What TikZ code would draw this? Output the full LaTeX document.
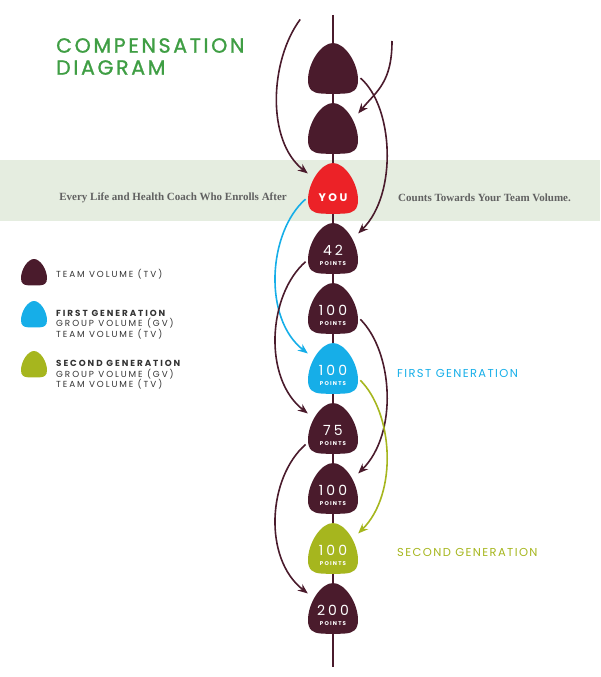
\documentclass[tikz,border=0pt]{standalone}
\usepackage{fontspec}
\setmainfont{Liberation Serif}
\newfontfamily\gothic{Poppins}[LetterSpace=12]
\newfontfamily\gothicwide{Poppins}[LetterSpace=22]
\newfontfamily\gothictitle{Poppins}[LetterSpace=13, FakeBold=1.2]
\usetikzlibrary{positioning,arrows.meta}
\definecolor{plum}{HTML}{4A1B2C}
\definecolor{youred}{HTML}{EC2227}
\definecolor{firstblue}{HTML}{16AEE8}
\definecolor{secondgreen}{HTML}{A6B61E}
\definecolor{titlegreen}{HTML}{3F9E44}
\definecolor{band}{HTML}{E5EDE0}
\definecolor{ink}{HTML}{333333}

\newcommand\ptslabel[1]{#1\\[-3pt]{\gothicwide\fontsize{5.5}{6}\selectfont\bfseries POINTS}}

\tikzset{
  pics/drop/.style={code={
    \fill[#1] (0,25) .. controls (12,25) and (25,5) .. (25,-12)
      .. controls (25,-22) and (20,-25) .. (12,-25.5)
      .. controls (5,-26) and (-5,-26) .. (-12,-25.5)
      .. controls (-20,-25) and (-25,-22) .. (-25,-12)
      .. controls (-25,5) and (-12,25) .. cycle;
  }},
  gum/.style={minimum width=50pt, minimum height=50pt, inner sep=0pt},
  pts/.style={text=white, align=center, inner sep=0pt, yshift=-7pt,
    font=\gothicwide\fontsize{14}{13}\selectfont},
  youtext/.style={text=white, inner sep=0pt, yshift=-10pt,
    font=\gothicwide\bfseries\fontsize{11}{12}\selectfont},
  link/.style={draw=plum, line width=1.6pt, -{Stealth[length=10pt,width=8pt]}, shorten <=3pt},
  stem/.style={draw=plum, line width=2.8pt},
  legend/.style={right, align=left, inner sep=0pt, text=ink,
    font=\gothicwide\fontsize{8.8}{10.5}\selectfont},
  bandtext/.style={inner sep=0pt, text=black!62, font=\fontsize{11}{12}\selectfont\bfseries},
  genlabel/.style={right, inner sep=0pt, font=\gothic\fontsize{11.5}{12}\selectfont},
}

\begin{document}
\begin{tikzpicture}[x=1pt,y=1pt]
  \useasboundingbox (0,0) rectangle (600,-677);

  % band behind the YOU row
  \fill[band] (0,-160) rectangle (600,-221);
  \node[bandtext, left] (after) at (287,-198) {Every Life and Health Coach Who Enrolls After};
  \node[bandtext, right] (counts) at (398,-198) {Counts Towards Your Team Volume.};

  % title
  \node[anchor=north west, align=left, inner sep=0pt, text=titlegreen,
    font=\gothictitle\fontsize{20.5}{22}\selectfont] (title) at (56,-38) {COMPENSATION\\DIAGRAM};

  % stem
  \coordinate (stem top) at (333,-15);
  \coordinate (stem bottom) at (333,-667);
  \draw[stem] (stem top) -- (stem bottom);

  % the column of drops
  \pic at (333,-68) {drop=plum};
  \node[gum] (d1) at (333,-68) {};
  \pic at (333,-128) {drop=plum};
  \node[gum] (d2) at (333,-128) {};
  \pic at (333,-188) {drop=youred};
  \node[gum, label={[youtext]center:YOU}] (you) at (333,-188) {};
  \pic at (333,-248) {drop=plum};
  \node[gum, label={[pts]center:{\ptslabel{42}}}] (d4) at (333,-248) {};
  \pic at (333,-308) {drop=plum};
  \node[gum, label={[pts]center:{\ptslabel{100}}}] (d5) at (333,-308) {};
  \pic at (333,-368) {drop=firstblue};
  \node[gum, label={[pts]center:{\ptslabel{100}}}] (first) at (333,-368) {};
  \pic at (333,-428) {drop=plum};
  \node[gum, label={[pts]center:{\ptslabel{75}}}] (d7) at (333,-428) {};
  \pic at (333,-488) {drop=plum};
  \node[gum, label={[pts]center:{\ptslabel{100}}}] (d8) at (333,-488) {};
  \pic at (333,-548) {drop=secondgreen};
  \node[gum, label={[pts]center:{\ptslabel{100}}}] (second) at (333,-548) {};
  \pic at (333,-608) {drop=plum};
  \node[gum, label={[pts]center:{\ptslabel{200}}}] (d10) at (333,-608) {};

  % generation labels
  \node[genlabel, text=firstblue] (first label) at (397,-373) {FIRST GENERATION};
  \node[genlabel, text=secondgreen] (second label) at (397,-552) {SECOND GENERATION};

  % enrolment arrows
  \coordinate (in1) at (302,-17);
  \coordinate (in2) at (392,-38);
  \draw[link] (in1) .. controls +(-32,-43) and +(-42,33) .. (you.150);
  \draw[link] (in2) .. controls +(0,-45) and +(18,22) .. (d2.30);
  \draw[link] (d1.-18) .. controls +(35,-30) and +(40,40) .. (d4.30);
  \draw[link, draw=firstblue] (you.200) .. controls +(-40,-35) and +(-45,35) .. (first.150);
  \draw[link] (d4.205) .. controls +(-40,-35) and +(-45,35) .. (d7.150);
  \draw[link] (d5.-20) .. controls +(35,-35) and +(40,40) .. (d8.30);
  \draw[link, draw=secondgreen] (first.-22) .. controls +(35,-35) and +(40,40) .. (second.30);
  \draw[link] (d7.210) .. controls +(-40,-35) and +(-45,35) .. (d10.150);

  % legend
  \pic[scale=.52] at (34,-272) {drop=plum};
  \node[legend] (tv) at (56,-274) {TEAM VOLUME (TV)};
  \pic[scale=.52] at (34,-314) {drop=firstblue};
  \node[legend] (gv1) at (56,-324.5) {\textbf{FIRST GENERATION}\\GROUP VOLUME (GV)\\TEAM VOLUME (TV)};
  \pic[scale=.52] at (34,-364) {drop=secondgreen};
  \node[legend] (gv2) at (56,-375) {\textbf{SECOND GENERATION}\\GROUP VOLUME (GV)\\TEAM VOLUME (TV)};
\end{tikzpicture}
\end{document}
